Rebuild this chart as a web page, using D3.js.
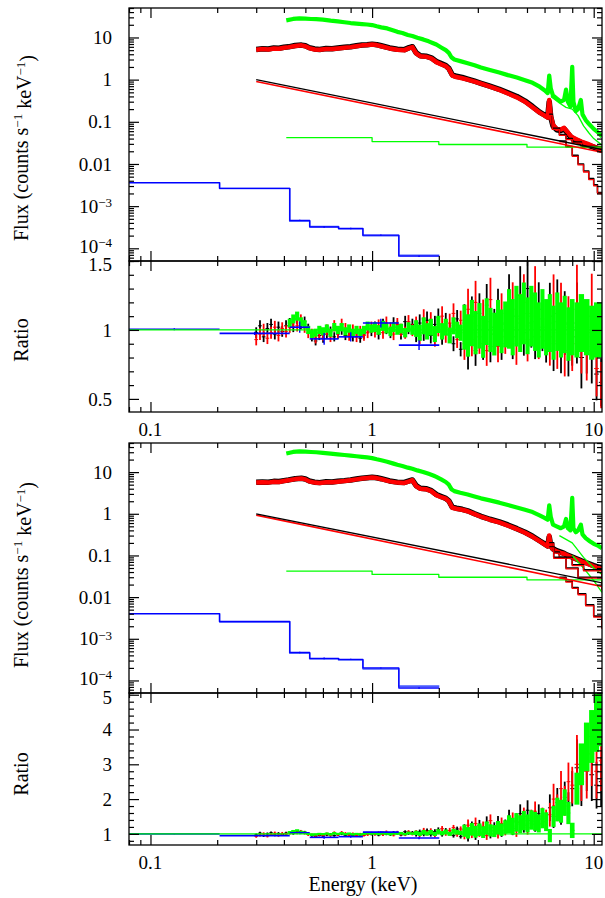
<!DOCTYPE html>
<html>
<head>
<meta charset="utf-8">
<script src="https://cdn.jsdelivr.net/npm/d3@7"></script>
<style>
  body { margin: 0; background: #fff; }
  svg { display: block; }
  svg text { font-family: "Liberation Serif", "DejaVu Serif", "Times New Roman", serif; fill: #000; }
</style>
</head>
<body>
<svg id="chart" width="605" height="898" font-family="Liberation Serif, DejaVu Serif, serif"></svg>
<script>
// ---------------- tick labels ----------------
const energyTickValues = [0.1, 1, 10];
const energyTickLabels = ["0.1", "1", "10"];
const fluxTickValues = [10, 1, 0.1, 0.01, 1e-3, 1e-4];
const fluxTickLabels = ["10", "1", "0.1", "0.01", "10^\u22123", "10^\u22124"];
const ratioTickValuesA = [0.5, 1, 1.5];
const ratioTickLabelsA = ["0.5", "1", "1.5"];
const ratioTickValuesB = [1, 2, 3, 4, 5];
const ratioTickLabelsB = ["1", "2", "3", "4", "5"];

// ---------------- unfolded spectra (counts s^-1 keV^-1) ----------------
// EPIC-pn (green), fit A and fit B
const pnFluxA = [[0.41,25.5],[0.44,27.5],[0.47,28.3],[0.5,28],[0.53,27.4],[0.56,27.1],[0.6,26.4],[0.65,25],[0.7,24],[0.75,23],[0.8,22],[0.85,21.4],[0.9,20.8],[0.95,20.3],[1.0,19.7],[1.05,18.4],[1.1,17.4],[1.17,16.4],[1.25,14.6],[1.3,13.6],[1.37,12.8],[1.45,11.5],[1.52,10.8],[1.6,9.8],[1.7,9.0],[1.8,8.1],[1.9,7.2],[1.95,6.8],[2.05,5.8],[2.15,5.0],[2.22,4.3],[2.28,3.4],[2.35,3.0],[2.5,2.75],[2.7,2.45],[2.9,2.2],[3.1,1.95],[3.4,1.7],[3.75,1.48],[4.1,1.28],[4.5,1.12],[4.9,0.97],[5.3,0.84],[5.7,0.68],[6.0,0.56],[6.2,0.48],[6.3,1.25],[6.4,0.62],[6.55,0.42],[6.8,0.36],[7.1,0.3],[7.35,0.33],[7.5,0.58],[7.65,0.3],[7.85,0.23],[8.0,2.0],[8.1,0.3],[8.3,0.18],[8.5,0.2],[8.75,0.33],[8.9,0.15],[9.2,0.11],[9.6,0.085],[10.0,0.068],[10.5,0.055],[10.9,0.045]];
const pnFluxB = [[0.41,28],[0.44,30.5],[0.47,31.5],[0.5,31],[0.53,30.4],[0.56,30],[0.6,29],[0.65,27.8],[0.7,26.8],[0.75,25.8],[0.8,24.8],[0.85,24],[0.9,23.2],[0.95,22.5],[1.0,21.7],[1.05,20.3],[1.1,19.2],[1.17,17.8],[1.25,16],[1.3,15],[1.37,14],[1.45,12.8],[1.52,12],[1.6,11],[1.7,10.1],[1.8,9.1],[1.9,8.2],[1.95,7.7],[2.05,6.7],[2.15,5.8],[2.22,5.0],[2.28,3.9],[2.35,3.5],[2.5,3.2],[2.7,2.9],[2.9,2.6],[3.1,2.35],[3.4,2.1],[3.75,1.85],[4.1,1.62],[4.5,1.42],[4.9,1.25],[5.3,1.1],[5.7,0.92],[6.0,0.8],[6.2,0.72],[6.3,1.6],[6.4,0.85],[6.55,0.55],[6.8,0.5],[7.1,0.45],[7.35,0.5],[7.5,0.75],[7.65,0.45],[7.85,0.4],[8.0,2.4],[8.1,0.45],[8.3,0.36],[8.5,0.4],[8.75,0.55],[8.9,0.32],[9.2,0.26],[9.6,0.22],[10.0,0.19],[10.5,0.17],[10.9,0.15]];

// MOS1 (black) and MOS2 (red) share one energy grid
const mosEnergy = [0.3,0.32,0.34,0.36,0.38,0.4,0.42,0.45,0.48,0.5,0.52,0.55,0.58,0.62,0.66,0.7,0.75,0.8,0.85,0.9,0.95,1.0,1.05,1.1,1.2,1.3,1.4,1.47,1.52,1.58,1.65,1.75,1.85,1.95,2.05,2.15,2.22,2.3,2.4,2.55,2.7,2.9,3.1,3.4,3.75,4.1,4.5,4.9,5.3,5.7,6.0,6.2,6.3,6.4,6.55,6.8,7.1,7.35,7.6,7.9,8.3,8.8,9.4,10.0,10.9];
const mos1FluxA = [5.2,5.4,5.35,5.6,5.55,5.85,6.0,6.45,6.6,6.35,5.75,5.35,5.2,5.45,5.4,5.65,5.85,6.0,6.35,6.65,6.75,6.95,6.75,6.35,5.65,5.25,5.15,5.75,6.05,4.35,3.7,3.6,3.3,2.7,2.4,2.15,1.85,1.3,1.2,1.13,1.03,0.92,0.82,0.7,0.59,0.49,0.4,0.31,0.23,0.17,0.145,0.13,0.3,0.13,0.08,0.065,0.062,0.068,0.055,0.043,0.037,0.032,0.028,0.025,0.021];
const mos2FluxA = [5.1,5.3,5.2,5.5,5.4,5.7,5.9,6.3,6.5,6.2,5.6,5.2,5.1,5.3,5.3,5.5,5.7,5.9,6.2,6.5,6.6,6.8,6.6,6.2,5.5,5.1,5.0,5.6,5.9,4.2,3.6,3.5,3.2,2.6,2.3,2.1,1.8,1.25,1.15,1.08,1.0,0.9,0.8,0.68,0.57,0.47,0.38,0.3,0.22,0.165,0.14,0.125,0.33,0.14,0.085,0.068,0.066,0.072,0.058,0.045,0.039,0.034,0.03,0.026,0.022];
const mos1FluxB = [5.7,5.8,5.75,6.0,5.95,6.25,6.5,6.95,7.1,6.85,6.15,5.75,5.6,5.85,5.8,6.05,6.25,6.5,6.85,7.15,7.35,7.55,7.35,6.95,6.15,5.75,5.65,6.15,6.5,4.75,4.1,4.0,3.6,2.9,2.6,2.35,2.05,1.45,1.36,1.28,1.18,1.0,0.87,0.74,0.64,0.54,0.44,0.36,0.29,0.225,0.19,0.17,0.28,0.17,0.145,0.13,0.12,0.112,0.102,0.094,0.084,0.074,0.065,0.057,0.049];
const mos2FluxB = [5.6,5.7,5.6,5.9,5.8,6.1,6.4,6.8,7.0,6.7,6.0,5.6,5.5,5.7,5.7,5.9,6.1,6.4,6.7,7.0,7.2,7.4,7.2,6.8,6.0,5.6,5.5,6.0,6.4,4.6,4.0,3.9,3.5,2.8,2.5,2.3,2.0,1.4,1.32,1.25,1.15,0.98,0.85,0.72,0.62,0.52,0.43,0.35,0.28,0.22,0.185,0.165,0.3,0.165,0.14,0.125,0.115,0.11,0.1,0.092,0.082,0.072,0.063,0.055,0.047];

// model components
const mos1PowerA = [[0.3,1.0],[10.9,0.022]];
const mos2PowerA = [[0.3,0.9],[10.9,0.019]];
const pnPowerA = [[0.41,0.042],[1.0,0.034],[2.0,0.029],[5.0,0.025],[10.9,0.02]];
const mosHardA = [[7.0,0.035],[7.5,0.026],[8.0,0.016],[8.5,0.01],[9.0,0.0068],[9.5,0.0045],[10.0,0.0032],[10.4,0.0021],[10.9,0.002]];
const mosLineA = [[6.3,0.15],[6.5,0.07],[7.0,0.05],[7.5,0.04],[8.0,0.033],[8.8,0.026],[10.9,0.02]];
const pnLineA = [[6.4,0.4],[7.0,0.28],[7.5,0.22],[8.0,0.2],[8.5,0.14],[9.0,0.08],[9.5,0.055],[10.0,0.04],[10.9,0.028]];

const mos1PowerB = [[0.3,1.0],[10.9,0.022]];
const mos2PowerB = [[0.3,0.93],[10.9,0.018]];
const pnPowerB = [[0.41,0.042],[1.0,0.035],[2.0,0.03],[5.0,0.026],[10.9,0.022]];
const mosHardB = [[7.0,0.03],[7.5,0.024],[8.0,0.017],[8.5,0.012],[9.2,0.0065],[10.0,0.0035],[10.9,0.0018]];
const mosLineB1 = [[6.3,0.2],[6.6,0.12],[7.0,0.09],[8.0,0.06],[9.0,0.045],[10.9,0.03]];
const mosLineB2 = [[6.3,0.16],[6.6,0.09],[7.5,0.05],[8.5,0.03],[10.9,0.015]];
const pnLineB1 = [[7.0,0.3],[8.0,0.2],[9.0,0.09],[10.0,0.05],[10.9,0.035]];
const pnLineB2 = [[8.0,0.1],[9.0,0.05],[10.0,0.025],[10.9,0.013]];

// blue (OM / low-energy) binned points
const blueEdges = [0.08, 0.205, 0.425, 0.523, 0.706, 0.909, 1.32, 2.01];
const blueFluxA = [3.6e-3, 2.65e-3, 4.6e-4, 3.2e-4, 2.95e-4, 2.05e-4, 6.5e-5];
const blueModelA = [3.6e-3, 2.62e-3, 4.4e-4, 3.3e-4, 2.9e-4, 2.0e-4, 6.8e-5];
const blueFluxB = [4.0e-3, 2.6e-3, 4.7e-4, 3.4e-4, 3.2e-4, 2.0e-4, 6.6e-5];
const blueModelB = [4.0e-3, 2.55e-3, 4.5e-4, 3.3e-4, 3.1e-4, 1.9e-4, 7.3e-5];
const blueRatioA = [1.005, 0.975, 1.02, 0.935, 0.95, 1.05, 0.89];
const blueRatioB = [1.0, 0.95, 1.03, 0.9, 0.92, 1.05, 0.88];
const blueRelErr = [0.008, 0.012, 0.04, 0.045, 0.035, 0.03, 0.04];

// ---------------- data/model ratios ----------------
const ratioEnergy = [0.300,0.312,0.324,0.337,0.350,0.364,0.378,0.393,0.409,0.425,0.441,0.459,0.477,0.496,0.515,0.535,0.556,0.578,0.601,0.625,0.649,0.675,0.701,0.729,0.758,0.788,0.819,0.851,0.884,0.919,0.955,0.993,1.03,1.07,1.12,1.16,1.21,1.25,1.30,1.35,1.41,1.46,1.52,1.58,1.64,1.71,1.77,1.84,1.92,1.99,2.07,2.15,2.24,2.33,2.42,2.51,2.61,2.71,2.82,2.93,3.05,3.17,3.29,3.42,3.56,3.70,3.84,3.99,4.15,4.31,4.48,4.66,4.84,5.03,5.23,5.44,5.65,5.87,6.10,6.34,6.59,6.85,7.12,7.40,7.69,8.00,8.4,8.8,9.3,9.8,10.3,10.8];
const relErrMos1 = [0.04,0.04,0.04,0.04,0.04,0.04,0.04,0.04,0.04, 0.035,0.035,0.035,0.035,0.035,0.035,0.035,0.035,0.035,0.035,0.035,0.035,0.035,0.035,0.035,0.035,0.035,0.035,0.035,0.035,0.035,0.035,0.035, 0.04,0.04,0.04,0.04,0.04,0.04,0.04,0.04,0.04,0.04,0.04, 0.06,0.06,0.06,0.06,0.06,0.06,0.06,0.06,0.06,0.06,0.06,0.06,0.06, 0.13,0.13,0.13,0.13,0.13,0.13,0.13,0.13,0.13,0.13,0.13,0.13, 0.17,0.17,0.17,0.17,0.17,0.17,0.17,0.17,0.17,0.17,0.17, 0.22,0.22,0.22,0.22,0.22,0.22,0.22, 0.28,0.28,0.28,0.28,0.28,0.28];
const relErrMos2 = [0.045,0.045,0.045,0.045,0.045,0.045,0.045,0.045,0.045, 0.04,0.04,0.04,0.04,0.04,0.04,0.04,0.04,0.04,0.04,0.04,0.04,0.04,0.04,0.04,0.04,0.04,0.04,0.04,0.04,0.04,0.04,0.04, 0.045,0.045,0.045,0.045,0.045,0.045,0.045,0.045,0.045,0.045,0.045, 0.065,0.065,0.065,0.065,0.065,0.065,0.065,0.065,0.065,0.065,0.065,0.065,0.065, 0.13,0.13,0.13,0.13,0.13,0.13,0.13,0.13,0.13,0.13,0.13,0.13, 0.17,0.17,0.17,0.17,0.17,0.17,0.17,0.17,0.17,0.17,0.17, 0.22,0.22,0.22,0.22,0.22,0.22,0.22, 0.28,0.28,0.28,0.28,0.28,0.28];
const relErrPn = [null,null,null,null,null,null,null,null,null, 0.03,0.03,0.03,0.03,0.03,0.03,0.03,0.03,0.03,0.03,0.03,0.03,0.03,0.03,0.03,0.03,0.03,0.03,0.03,0.03,0.03,0.03,0.03, 0.035,0.035,0.035,0.035,0.035,0.035,0.035,0.035,0.035,0.035,0.035, 0.06,0.06,0.06,0.06,0.06,0.06,0.06,0.06,0.06,0.06,0.06,0.06,0.06, 0.16,0.16,0.16,0.16,0.16,0.16,0.16,0.16,0.16,0.16,0.16,0.16, 0.2,0.2,0.2,0.2,0.2,0.2,0.2,0.2,0.2,0.2,0.2, 0.2,0.2,0.2,0.2,0.2,0.2,0.2, 0.2,0.2,0.2,0.2,0.2,0.2];

const mos1RatioA = [0.98,1.03,0.95,1.01,1.04,0.97,1.02,0.99,1.03, 1.05,1.02,1.08,1.04,1.06,1.01,0.95,0.92,0.96, 0.94,0.97,0.99,0.95,0.97,1.00,0.96,0.99,0.95,0.98,0.94,0.97,1.01,0.99, 1.02,0.97,1.04,1.01,0.98,1.05,1.02,0.97,1.06,1.01,1.04, 0.97,1.05,0.98,1.07,0.96,1.04,1.09,0.95,1.06,0.99,0.9,1.08,0.86, 1.05,0.82,1.1,0.85,1.12,0.9,1.18,0.88,1.02,1.15,0.9,1.05, 1.2,0.95,1.1,1.25,0.98,1.3,1.05,0.95,1.15,1.02,0.92, 1.1,0.9,1.12,0.88,1.05,0.85,0.95, 1.05,0.8,0.95,0.85,0.68,0.62];
const mos2RatioA = [0.93,0.97,1.0,0.94,0.98,1.02,0.96,1.01,0.99, 1.02,1.06,1.03,1.07,1.02,0.98,0.97,0.94,0.98, 0.96,1.0,0.95,1.03,0.98,1.04,1.01,0.96,1.0,0.95,0.99,0.96,0.98,1.02, 0.99,1.03,0.98,1.05,1.01,0.97,1.04,1.0,0.98,1.06,1.0, 1.03,0.96,1.08,1.0,1.06,0.94,1.02,1.1,0.97,1.05,1.12,0.93,1.07, 0.9,1.15,0.93,1.2,0.95,1.08,0.85,1.22,0.97,0.88,1.12,0.95, 1.05,1.15,0.9,1.08,1.2,0.93,1.12,1.25,0.95,1.08,1.0, 0.95,1.15,0.92,1.1,0.85,1.02,0.9, 1.15,0.95,0.88,1.1,0.72,0.6];
const pnRatioA = [null,null,null,null,null,null,null,null,null, 1.05,1.08,1.1,1.06,1.04,1.0,0.97,0.98,1.0, 0.99,1.01,0.98,1.02,1.0,1.02,0.99,1.01,0.98,1.0,0.98,1.0,1.03,1.01, 1.02,1.0,1.03,1.01,0.99,1.02,1.0,1.01,0.98,1.02,1.0, 1.01,0.98,1.03,0.99,1.02,0.97,1.04,0.99,1.02,0.96,1.03,1.0,0.98, 1.02,0.96,1.05,0.98,1.03,0.95,1.06,1.0,0.97,1.05,0.99,1.04, 1.08,1.02,1.1,1.05,1.12,1.03,1.1,1.06,1.0,1.08,1.02, 1.05,0.98,1.06,1.0,1.04,0.97,1.02, 1.0,1.05,1.02,0.98,1.0,1.0];

const mos1RatioB = [0.97,1.02,0.95,1.0,1.03,0.97,1.01,0.98,1.02, 1.04,1.01,1.06,1.03,1.05,1.0,0.95,0.93,0.96, 0.94,0.97,0.99,0.95,0.97,1.0,0.96,0.99,0.95,0.98,0.94,0.97,1.0,0.99, 1.01,0.97,1.03,1.0,0.98,1.04,1.02,0.97,1.06,1.01,1.04, 0.98,1.06,0.99,1.09,0.98,1.07,1.12,0.98,1.1,1.03,0.95,1.14,0.92, 1.13,0.9,1.2,0.95,1.24,1.02,1.33,1.0,1.18,1.34,1.05,1.25, 1.45,1.16,1.36,1.58,1.25,1.68,1.38,1.28,1.58,1.42,1.35, 1.75,1.5,1.9,1.62,2.05,1.8,2.3, 2.9,2.5,3.1,2.7,2.4,2.5];
const mos2RatioB = [0.93,0.97,1.0,0.94,0.98,1.02,0.96,1.01,0.99, 1.02,1.06,1.03,1.07,1.02,0.98,0.97,0.94,0.98, 0.96,1.0,0.95,1.03,0.98,1.04,1.01,0.96,1.0,0.95,0.99,0.96,0.98,1.02, 0.99,1.03,0.98,1.05,1.01,0.97,1.04,1.0,0.98,1.06,1.0, 1.04,0.97,1.1,1.02,1.09,0.96,1.06,1.15,1.01,1.1,1.18,0.98,1.14, 0.97,1.25,1.01,1.3,1.05,1.2,0.95,1.38,1.1,1.0,1.3,1.1, 1.25,1.38,1.1,1.33,1.5,1.18,1.45,1.65,1.28,1.5,1.45, 1.55,2.0,1.75,2.3,1.95,2.5,2.4, 3.0,2.7,2.8,3.3,2.8,3.1];
const pnRatioB = [null,null,null,null,null,null,null,null,null, 1.05,1.08,1.1,1.06,1.04,1.0,0.97,0.98,1.0, 0.99,1.01,0.98,1.02,1.0,1.02,0.99,1.01,0.98,1.0,0.98,1.0,1.03,1.01, 1.02,1.0,1.03,1.01,0.99,1.02,1.01,1.02,0.99,1.03,1.01, 1.03,1.0,1.05,1.01,1.05,1.0,1.07,1.02,1.06,1.0,1.08,1.05,1.03, 1.09,1.03,1.13,1.06,1.12,1.05,1.17,1.1,1.08,1.18,1.12,1.2, 1.28,1.22,1.33,1.28,1.38,1.3,1.4,1.36,1.3,1.45,1.35, 0.95,1.5,1.7,1.65,1.9,1.6,1.1, 2.3,3.0,3.5,3.8,4.2,4.4];
const unityModel = [[0.08, 1], [10.9, 1]];

// ---------------- layout ----------------
const svg = d3.select("#chart");
const X0 = 129, X1 = 602;
const COLORS = { mos1: "#000000", mos2: "#ff0000", pn: "#00ff00", blue: "#0000ff", blueModel: "#4a5cff" };

const x = d3.scaleLog().domain([0.08, 10.9]).range([X0, X1]);
const panels = {
  fluxA:  { top: 8,   bottom: 261, y: d3.scaleLog().domain([5e-5, 50]).range([261, 8]) },
  ratioA: { top: 261, bottom: 412, y: d3.scaleLinear().domain([0.405, 1.5]).range([412, 261]) },
  fluxB:  { top: 443, bottom: 693, y: d3.scaleLog().domain([5e-5, 50]).range([693, 443]) },
  ratioB: { top: 693, bottom: 845, y: d3.scaleLinear().domain([0.68, 5.05]).range([845, 693]) }
};

const defs = svg.append("defs");
Object.entries(panels).forEach(([key, p]) => {
  defs.append("clipPath").attr("id", "clip-" + key)
    .append("rect").attr("x", X0).attr("y", p.top).attr("width", X1 - X0).attr("height", p.bottom - p.top);
  p.g = svg.append("g").attr("clip-path", `url(#clip-${key})`);
});

const isDecade = v => { const l = Math.log10(v); return Math.abs(l - Math.round(l)) < 1e-6; };

function tickGroup(parent, axis, tx, ty) {
  const g = parent.append("g").attr("transform", `translate(${tx},${ty})`).call(axis);
  g.select(".domain").remove();
  g.selectAll(".tick text").remove();
  g.selectAll(".tick line").attr("stroke", "#000").attr("stroke-width", 1.2);
  return g;
}

function drawFrame(p, yMajor, yMinor) {
  const g = svg.append("g");
  const xt = x.ticks();
  const xMaj = xt.filter(isDecade), xMin = xt.filter(v => !isDecade(v));
  tickGroup(g, d3.axisBottom(x).tickValues(xMin).tickSize(-5), 0, p.bottom);
  tickGroup(g, d3.axisBottom(x).tickValues(xMaj).tickSize(-10), 0, p.bottom);
  tickGroup(g, d3.axisTop(x).tickValues(xMin).tickSize(-5), 0, p.top);
  tickGroup(g, d3.axisTop(x).tickValues(xMaj).tickSize(-10), 0, p.top);
  tickGroup(g, d3.axisLeft(p.y).tickValues(yMinor).tickSize(-5), X0, 0);
  tickGroup(g, d3.axisLeft(p.y).tickValues(yMajor).tickSize(-10), X0, 0);
  tickGroup(g, d3.axisRight(p.y).tickValues(yMinor).tickSize(-5), X1, 0);
  tickGroup(g, d3.axisRight(p.y).tickValues(yMajor).tickSize(-10), X1, 0);
  g.append("rect").attr("x", X0).attr("y", p.top).attr("width", X1 - X0).attr("height", p.bottom - p.top)
    .attr("fill", "none").attr("stroke", "#000").attr("stroke-width", 1.3);
}

function yTickLabels(p, values, labels, shift) {
  values.forEach((v, i) => {
    const [base, sup] = labels[i].split("^");
    const t = svg.append("text").attr("x", X0 - 17).attr("y", p.y(v) + ((shift && shift[i]) || 0)).attr("dy", "0.35em")
      .attr("text-anchor", "end").attr("font-size", 19).text(base);
    if (sup) t.append("tspan").attr("dy", "-0.45em").attr("font-size", 13).text(sup);
  });
}
function xTickLabels(p) {
  energyTickValues.forEach((v, i) => {
    svg.append("text").attr("x", x(v)).attr("y", p.bottom + 24).attr("text-anchor", "middle")
      .attr("font-size", 19).text(energyTickLabels[i]);
  });
}

// ---------------- mark helpers ----------------
function pathLine(g, y, pts, color, width, curve) {
  const line = d3.line().x(d => x(d[0])).y(d => y(d[1]));
  if (curve) line.curve(curve);
  g.append("path").datum(pts).attr("d", line).attr("fill", "none")
    .attr("stroke", color).attr("stroke-width", width).attr("stroke-linejoin", "round");
}
function zipEnergy(energy, values) { return energy.map((e, i) => [e, values[i]]); }
function stepPoints(edges, values) {
  return values.map((v, i) => [edges[i], v]).concat([[edges[edges.length - 1], values[values.length - 1]]]);
}
function blueCrosses(g, y, values, asFlux) {
  values.forEach((v, i) => {
    const lo = blueEdges[i], hi = blueEdges[i + 1], c = Math.sqrt(lo * hi), e = blueRelErr[i];
    if (!asFlux) {
      g.append("line").attr("x1", x(lo)).attr("x2", x(hi)).attr("y1", y(v)).attr("y2", y(v))
        .attr("stroke", COLORS.blue).attr("stroke-width", 1.6);
    }
    g.append("line").attr("x1", x(c)).attr("x2", x(c)).attr("y1", y(v * (1 - e))).attr("y2", y(v * (1 + e)))
      .attr("stroke", COLORS.blue).attr("stroke-width", 1.4);
  });
}

const ratioEdges = ratioEnergy.map((e, i, E) => {
  const lo = i > 0 ? Math.sqrt(E[i - 1] * e) : e * e / Math.sqrt(e * E[1]);
  const hi = i < E.length - 1 ? Math.sqrt(e * E[i + 1]) : e * e / Math.sqrt(E[i - 1] * e);
  return [lo, hi];
});
// each bin: vertical error bar plus horizontal bin-width bar
function ratioSeries(g, y, values, relErr, color, barWidth) {
  const pts = ratioEnergy.map((e, i) => ({ e, lo: ratioEdges[i][0], hi: ratioEdges[i][1], v: values[i], err: relErr[i] }))
    .filter(d => d.v != null);
  g.append("g").selectAll("line").data(pts).join("line")
    .attr("x1", d => x(d.e)).attr("x2", d => x(d.e))
    .attr("y1", d => y(d.v * (1 - d.err))).attr("y2", d => y(d.v * (1 + d.err)))
    .attr("stroke", color).attr("stroke-width", d => barWidth(x(d.hi) - x(d.lo)));
  g.append("g").selectAll("line").data(pts).join("line")
    .attr("x1", d => x(d.lo)).attr("x2", d => x(d.hi)).attr("y1", d => y(d.v)).attr("y2", d => y(d.v))
    .attr("stroke", color).attr("stroke-width", 1);
}

// ---------------- flux panels ----------------
function drawFluxPanel(p, d) {
  const g = p.g, y = p.y;
  pathLine(g, y, zipEnergy(mosEnergy, d.mos1), COLORS.mos1, 5.5);
  pathLine(g, y, zipEnergy(mosEnergy, d.mos2), COLORS.mos2, 4.5);
  pathLine(g, y, d.pn, COLORS.pn, 4.2);
  d.pnComp.forEach(c => pathLine(g, y, c, COLORS.pn, 1.3));
  d.mosComp.forEach(c => { pathLine(g, y, c, COLORS.mos1, 1.6, d3.curveStepAfter); pathLine(g, y, c.map(q => [q[0], q[1] * 0.95]), COLORS.mos2, 1.3, d3.curveStepAfter); });
  pathLine(g, y, d.pnPower, COLORS.pn, 1.3, d3.curveStepAfter);
  pathLine(g, y, d.mos2Power, COLORS.mos2, 1.6);
  pathLine(g, y, d.mos1Power, COLORS.mos1, 1.3);
  pathLine(g, y, stepPoints(blueEdges, d.blueModel), COLORS.blueModel, 1.6, d3.curveStepAfter);
  pathLine(g, y, stepPoints(blueEdges, d.blue), COLORS.blue, 1.3, d3.curveStepAfter);
  blueCrosses(g, y, d.blue, true);
}
drawFluxPanel(panels.fluxA, {
  mos1: mos1FluxA, mos2: mos2FluxA, pn: pnFluxA,
  mos1Power: mos1PowerA, mos2Power: mos2PowerA, pnPower: pnPowerA,
  mosComp: [mosHardA, mosLineA], pnComp: [pnLineA],
  blue: blueFluxA, blueModel: blueModelA
});
drawFluxPanel(panels.fluxB, {
  mos1: mos1FluxB, mos2: mos2FluxB, pn: pnFluxB,
  mos1Power: mos1PowerB, mos2Power: mos2PowerB, pnPower: pnPowerB,
  mosComp: [mosHardB, mosLineB1, mosLineB2], pnComp: [pnLineB1, pnLineB2],
  blue: blueFluxB, blueModel: blueModelB
});

// ---------------- ratio panels ----------------
const thinBar = w => Math.min(1.8, w);
const fullBar = w => w + 0.4;
function drawRatioPanel(p, d) {
  const g = p.g, y = p.y;
  ratioSeries(g, y, d.mos1, relErrMos1, COLORS.mos1, thinBar);
  ratioSeries(g, y, d.mos2, relErrMos2, COLORS.mos2, thinBar);
  ratioSeries(g, y, d.pn, relErrPn, COLORS.pn, fullBar);
  blueCrosses(g, y, d.blue, false);
  pathLine(g, y, unityModel, COLORS.pn, 1.3);
}
drawRatioPanel(panels.ratioA, { mos1: mos1RatioA, mos2: mos2RatioA, pn: pnRatioA, blue: blueRatioA });
drawRatioPanel(panels.ratioB, { mos1: mos1RatioB, mos2: mos2RatioB, pn: pnRatioB, blue: blueRatioB });

// ---------------- frames, ticks, labels ----------------
const logTicks = panels.fluxA.y.ticks();
drawFrame(panels.fluxA, logTicks.filter(isDecade), logTicks.filter(v => !isDecade(v)));
drawFrame(panels.fluxB, logTicks.filter(isDecade), logTicks.filter(v => !isDecade(v)));
const rA = panels.ratioA.y.ticks(10);
drawFrame(panels.ratioA, ratioTickValuesA, rA.filter(v => !ratioTickValuesA.some(m => Math.abs(m - v) < 1e-9)));
const rB = panels.ratioB.y.ticks(20);
drawFrame(panels.ratioB, ratioTickValuesB, rB.filter(v => !ratioTickValuesB.some(m => Math.abs(m - v) < 1e-9)));

yTickLabels(panels.fluxA, fluxTickValues, fluxTickLabels, [0, 0, 0, 0, 0, -2]);
yTickLabels(panels.fluxB, fluxTickValues, fluxTickLabels, [0, 0, 0, 0, 0, -2]);
yTickLabels(panels.ratioA, ratioTickValuesA, ratioTickLabelsA, [0, 0, 3]);
yTickLabels(panels.ratioB, ratioTickValuesB, ratioTickLabelsB, [0, 0, 0, 0, 3]);
xTickLabels(panels.ratioA);
xTickLabels(panels.ratioB);

function fluxTitle(cy) {
  const t = svg.append("text").attr("transform", `translate(28,${cy}) rotate(-90)`)
    .attr("text-anchor", "middle").attr("font-size", 20);
  t.append("tspan").text("Flux (counts s");
  t.append("tspan").attr("dy", "-0.45em").attr("font-size", 13).text("\u22121");
  t.append("tspan").attr("dy", "0.45em").text(" keV");
  t.append("tspan").attr("dy", "-0.45em").attr("font-size", 13).text("\u22121");
  t.append("tspan").attr("dy", "0.45em").text(")");
}
function ratioTitle(cy) {
  svg.append("text").attr("transform", `translate(28,${cy}) rotate(-90)`)
    .attr("text-anchor", "middle").attr("font-size", 20).text("Ratio");
}
fluxTitle(148);
fluxTitle(575);
ratioTitle(340);
ratioTitle(774);
svg.append("text").attr("x", 363).attr("y", 891).attr("text-anchor", "middle").attr("font-size", 20).text("Energy (keV)");
</script>
</body>
</html>
